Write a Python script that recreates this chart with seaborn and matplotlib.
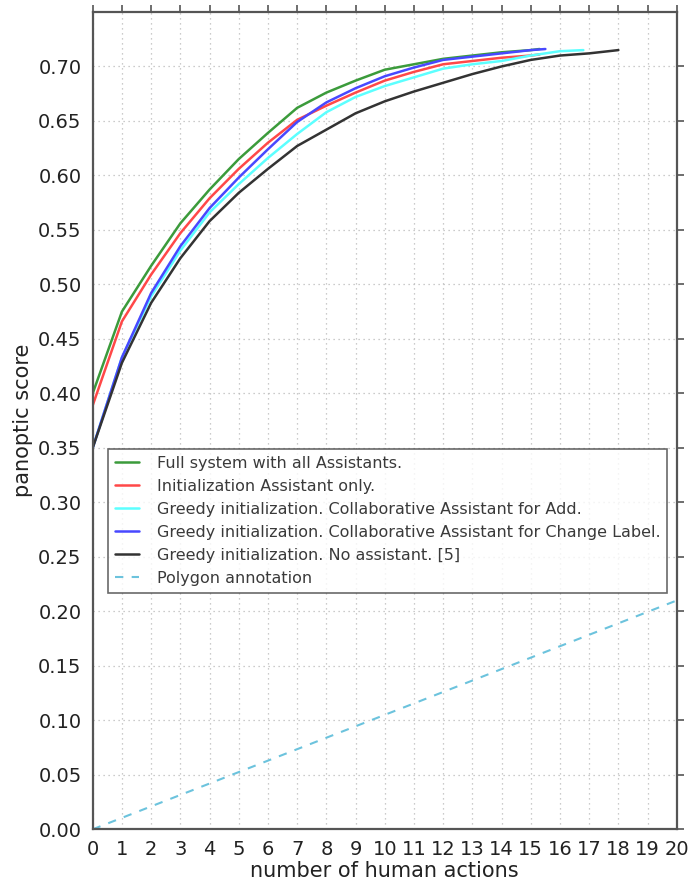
import numpy as np
import pandas as pd
import matplotlib
matplotlib.use("Agg")
import matplotlib.pyplot as plt
import seaborn as sns

labels = [
    "Full system with all Assistants.",
    "Initialization Assistant only.",
    "Greedy initialization. Collaborative Assistant for Add.",
    "Greedy initialization. Collaborative Assistant for Change Label.",
    "Greedy initialization. No assistant. [5]",
]

full_x = [0, 1, 2, 3, 4, 5, 6, 7, 8, 9, 10, 11, 12, 13, 14, 15, 15.3]
full_y = [0.400, 0.475, 0.517, 0.556, 0.587, 0.615, 0.639, 0.662, 0.676, 0.687,
          0.697, 0.702, 0.707, 0.710, 0.713, 0.715, 0.716]

init_x = [0, 1, 2, 3, 4, 5, 6, 7, 8, 9, 10, 11, 12, 13, 14, 15, 15.3]
init_y = [0.389, 0.466, 0.509, 0.547, 0.579, 0.606, 0.630, 0.651, 0.664, 0.676,
          0.687, 0.695, 0.702, 0.705, 0.708, 0.710, 0.711]

add_x = [0, 1, 2, 3, 4, 5, 6, 7, 8, 9, 10, 11, 12, 13, 14, 15, 16, 16.8]
add_y = [0.350, 0.433, 0.489, 0.531, 0.566, 0.592, 0.616, 0.638, 0.658, 0.672,
         0.682, 0.690, 0.698, 0.702, 0.705, 0.710, 0.714, 0.715]

chg_x = [0, 1, 2, 3, 4, 5, 6, 7, 8, 9, 10, 11, 12, 13, 14, 15, 15.5]
chg_y = [0.350, 0.433, 0.492, 0.535, 0.570, 0.598, 0.624, 0.649, 0.667, 0.680,
         0.691, 0.699, 0.706, 0.709, 0.712, 0.715, 0.716]

none_x = [0, 1, 2, 3, 4, 5, 6, 7, 8, 9, 10, 11, 12, 13, 14, 15, 16, 17, 18]
none_y = [0.350, 0.428, 0.483, 0.524, 0.558, 0.584, 0.606, 0.627, 0.642, 0.657,
          0.668, 0.677, 0.685, 0.693, 0.700, 0.706, 0.710, 0.712, 0.715]

poly_label = "Polygon annotation"
poly_x = [0, 20]
poly_y = [0.0, 0.21]

xticks = list(range(0, 21))
yticks = [round(0.05 * i, 2) for i in range(0, 15)]

colors = ["#3b9b3b", "#ff4848", "#5cffff", "#4848ff", "#333333"]

sns.set_style("white")
plt.rcParams["font.family"] = ["DejaVu Sans"]

fig = plt.figure(figsize=(6.97, 8.86), dpi=100)
ax = fig.add_axes([0.133, 0.064, 0.838, 0.9225])

series = [(full_x, full_y), (init_x, init_y), (add_x, add_y), (chg_x, chg_y), (none_x, none_y)]
for (xs, ys), lab, c in zip(series, labels, colors):
    df = pd.DataFrame({"x": xs, "y": ys})
    sns.lineplot(data=df, x="x", y="y", ax=ax, color=c, linewidth=1.8, label=lab, sort=False)

dfp = pd.DataFrame({"x": poly_x, "y": poly_y})
sns.lineplot(data=dfp, x="x", y="y", ax=ax, color="#6cc3dd", linewidth=1.5,
             linestyle=(0, (4, 4)), label=poly_label)

ax.set_xlim(0, 20)
ax.set_ylim(0, 0.75)
ax.set_xticks(xticks)
ax.set_yticks(yticks)
ax.set_yticklabels([f"{v:.2f}" for v in yticks])
ax.set_xlabel("number of human actions", fontsize=15, color="#222222", labelpad=1)
ax.set_ylabel("panoptic score", fontsize=15, color="#222222", labelpad=4)

ax.grid(True, linestyle=(0, (1, 3)), color="#bbbbbb", linewidth=0.9)
ax.tick_params(direction="out", top=True, right=True, length=5, width=1.2,
               color="#555555", labelsize=14, labelcolor="#222222", pad=3)
for s in ax.spines.values():
    s.set_color("#555555")
    s.set_linewidth(1.6)

leg = ax.legend(loc="lower left", bbox_to_anchor=(0.026, 0.289), fontsize=11.5,
                frameon=True, fancybox=False, handlelength=1.5, labelspacing=0.5,
                borderpad=0.45, handletextpad=1.1, borderaxespad=0)
leg.get_frame().set_edgecolor("#444444")
leg.get_frame().set_linewidth(1.2)
for t in leg.get_texts():
    t.set_color("#3a3a3a")

fig.savefig("out.png", dpi=100)
